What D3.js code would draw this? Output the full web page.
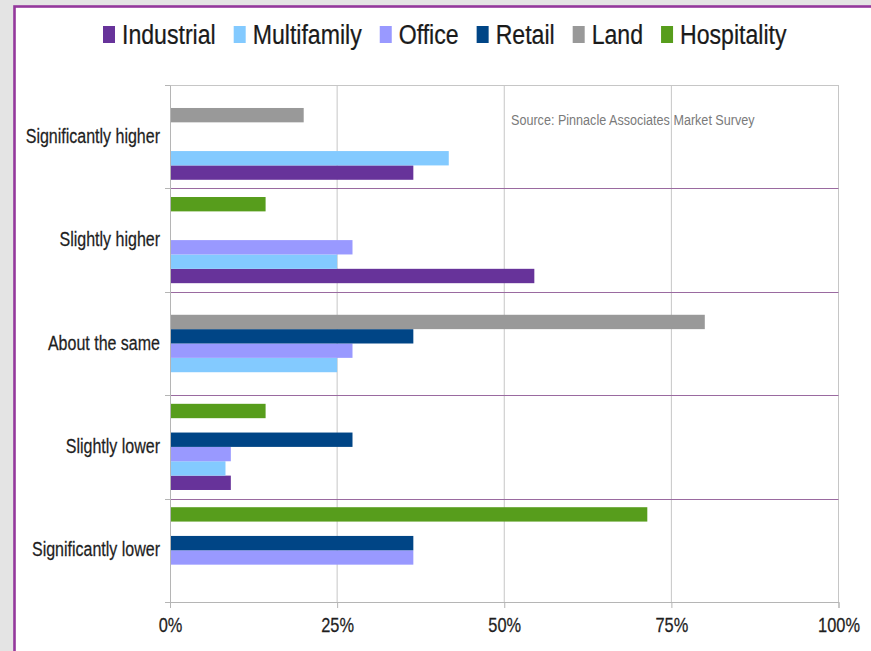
<!DOCTYPE html>
<html>
<head>
<meta charset="utf-8">
<script src="https://cdn.jsdelivr.net/npm/d3@7"></script>
<style>
  html, body { margin: 0; padding: 0; background: #e4e4e4; }
  svg { display: block; font-family: "Liberation Sans", Arial, sans-serif; }
</style>
</head>
<body>
<svg id="chart" width="871" height="651"></svg>
<script>
// Survey responses by property type (percent of respondents)
const categories = ["Significantly higher", "Slightly higher", "About the same", "Slightly lower", "Significantly lower"];
const seriesNames = ["Industrial", "Multifamily", "Office", "Retail", "Land", "Hospitality"];
const seriesColors = ["#67339a", "#83caff", "#9999ff", "#004586", "#999999", "#579d1c"];

const industrial  = [36.4, 54.5, 0,    9.1,  0];
const multifamily = [41.7, 25.0, 25.0, 8.3,  0];
const office      = [0,    27.3, 27.3, 9.1,  36.4];
const retail      = [0,    0,    36.4, 27.3, 36.4];
const land        = [20.0, 0,    80.0, 0,    0];
const hospitality = [0,    14.3, 0,    14.3, 71.4];

const tickValues = [0, 25, 50, 75, 100];
const sourceNote = "Source: Pinnacle Associates Market Survey";

const seriesValues = [industrial, multifamily, office, retail, land, hospitality];
const rows = [];
seriesNames.forEach((name, si) => {
  categories.forEach((cat, ci) => {
    rows.push({ series: name, category: cat, value: seriesValues[si][ci], color: seriesColors[si] });
  });
});

const svg = d3.select("#chart");

// outer frame
svg.append("rect")
  .attr("x", 14.5).attr("y", 6.5)
  .attr("width", 900).attr("height", 700)
  .attr("fill", "#ffffff")
  .attr("stroke", "#94389c")
  .attr("stroke-width", 2.6);

const plot = { left: 170, right: 838.5, top: 85, bottom: 602 };

const x = d3.scaleLinear().domain([0, 100]).range([plot.left, plot.right]);
const y = d3.scaleBand().domain(categories).range([plot.top, plot.bottom]).padding(0);
// within each category, Hospitality sits on top and Industrial at the bottom
const inner = d3.scaleBand().domain(seriesNames.slice().reverse())
  .range([0, y.bandwidth()]).paddingInner(0).paddingOuter(0.6);

// vertical gridlines
svg.append("g").selectAll("line")
  .data(tickValues.filter(t => t > 0))
  .join("line")
  .attr("x1", d => x(d)).attr("x2", d => x(d))
  .attr("y1", plot.top).attr("y2", plot.bottom)
  .attr("stroke", "#c6c6c6").attr("stroke-width", 1);

// top edge of plot area
svg.append("line")
  .attr("x1", plot.left).attr("x2", plot.right)
  .attr("y1", plot.top + 0.5).attr("y2", plot.top + 0.5)
  .attr("stroke", "#c6c6c6");

// category separators
svg.append("g").selectAll("line")
  .data(categories.slice(1))
  .join("line")
  .attr("x1", plot.left).attr("x2", plot.right)
  .attr("y1", d => Math.round(y(d)) + 0.5).attr("y2", d => Math.round(y(d)) + 0.5)
  .attr("stroke", "#9a6aa0").attr("stroke-width", 1);

// bars
svg.append("g").selectAll("rect")
  .data(rows.filter(r => r.value > 0))
  .join("rect")
  .attr("x", x(0))
  .attr("y", d => y(d.category) + inner(d.series))
  .attr("width", d => x(d.value) - x(0))
  .attr("height", inner.bandwidth())
  .attr("fill", d => d.color);

// x axis
const sxTick = 0.82;
const xAxis = svg.append("g")
  .attr("transform", `translate(0,${plot.bottom})`)
  .call(d3.axisBottom(x).tickValues(tickValues).tickSize(6).tickPadding(6).tickFormat(d => d + "%"));
xAxis.select(".domain").attr("stroke", "#b5b5b5");
xAxis.selectAll(".tick line").attr("stroke", "#b5b5b5");
xAxis.selectAll(".tick text")
  .attr("font-size", 20)
  .attr("fill", "#1e1e1e")
  .attr("stroke", "#1e1e1e").attr("stroke-width", 0.25)
  .attr("font-family", "Liberation Sans, Arial, sans-serif")
  .attr("transform", `scale(${sxTick},1)`)
  .attr("y", 16).attr("dy", "0.71em");

// y axis
const sxCat = 0.8;
const yAxis = svg.append("g")
  .attr("transform", `translate(${plot.left},0)`)
  .call(d3.axisLeft(y).tickSize(0).tickPadding(10));
yAxis.select(".domain").attr("stroke", "#b5b5b5");
yAxis.selectAll(".tick text")
  .attr("font-size", 20)
  .attr("fill", "#1e1e1e")
  .attr("stroke", "#1e1e1e").attr("stroke-width", 0.25)
  .attr("font-family", "Liberation Sans, Arial, sans-serif")
  .attr("x", -10 / sxCat)
  .attr("dy", "0.3em")
  .attr("transform", `scale(${sxCat},1)`);

// tick marks at category boundaries
const boundaries = categories.map(c => y(c)).concat([plot.bottom]);
svg.append("g").selectAll("line")
  .data(boundaries)
  .join("line")
  .attr("x1", plot.left - 5).attr("x2", plot.left)
  .attr("y1", d => Math.round(d) + 0.5).attr("y2", d => Math.round(d) + 0.5)
  .attr("stroke", "#b5b5b5");

// source note
svg.append("text")
  .attr("transform", `translate(511,125) scale(0.84,1)`)
  .attr("font-size", 15)
  .attr("fill", "#7a7a7a")
  .text(sourceNote);

// legend
const sxLeg = 0.825;
const legend = svg.append("g");
let lx = 103;
seriesNames.forEach((name, i) => {
  legend.append("rect")
    .attr("x", lx).attr("y", 26)
    .attr("width", 12).attr("height", 17)
    .attr("fill", seriesColors[i]);
  const t = legend.append("text")
    .attr("transform", `translate(${lx + 19},44) scale(${sxLeg},1)`)
    .attr("font-size", 28)
    .attr("fill", "#1a1a1a")
    .attr("stroke", "#1a1a1a").attr("stroke-width", 0.25)
    .text(name);
  lx += 19 + t.node().getComputedTextLength() * sxLeg + 18;
});
</script>
</body>
</html>
